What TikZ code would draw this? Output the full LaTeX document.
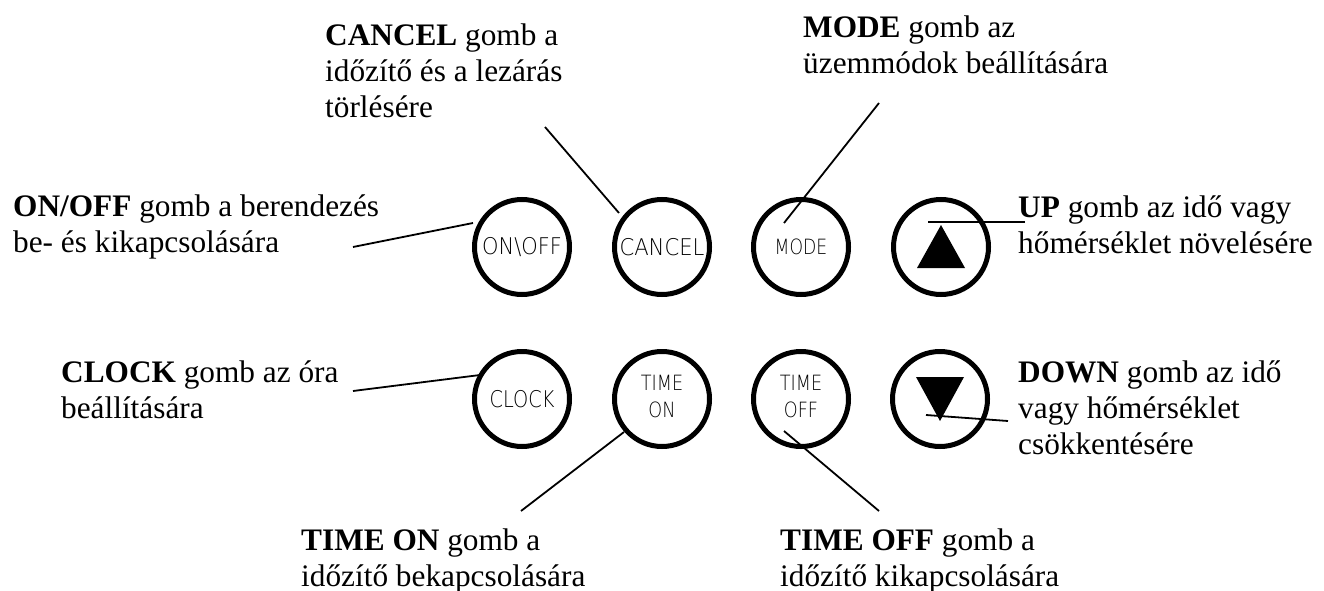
\documentclass[tikz,border=0pt]{standalone}
\usepackage{graphicx}
\usepackage{fontspec}
\setmainfont{Liberation Serif}
\newfontfamily\btnfont{DejaVu Sans ExtraLight}
\newcommand{\bl}[2]{\scalebox{#1}[1]{#2}}
\newcommand{\bltwo}[3]{\scalebox{#1}[1]{\begin{tabular}{@{}c@{}}#2\\#3\end{tabular}}}
\begin{document}
\begin{tikzpicture}[x=1pt,y=-1pt,
  lab/.style={inner sep=0pt,anchor=base west,font=\fontsize{31.3}{36}\selectfont},
  btn/.style={circle,draw,line width=5pt,minimum size=95pt,inner sep=0pt,align=center,
              font=\btnfont\fontsize{23}{27}\selectfont},
  btnsmall/.style={btn,font=\btnfont\fontsize{21}{27}\selectfont},
  conn/.style={line width=1.8pt}]
\useasboundingbox (0,0) rectangle (1324,591);
% buttons
\node[btn] (onoff)  at (522,247) {\bl{0.91}{ON\textbackslash OFF}};
\node[btn] (cancel) at (662,247) {\bl{0.92}{CANCEL}};
\node[btnsmall] (mode)   at (801,247) {\bl{0.82}{MODE}};
\node[btn] (up)     at (941,247) {};
\node[btn] (clock)  at (522,399) {\bl{0.84}{CLOCK}};
\node[btnsmall] (timeon) at (662,399) {\bltwo{0.84}{TIME}{ON}};
\node[btnsmall] (timeoff) at (801,399) {\bltwo{0.84}{TIME}{OFF}};
\node[btn] (down)   at (940,399) {};
\fill[shift={(up.center)}] (0,-22) -- (-24,21) -- (24,21) -- cycle;
\fill[shift={(down.center)}] (-24,-22) -- (24,-22) -- (0,22) -- cycle;
% labels
\node[lab] (tonoff) at (13,216) {\vtop{\hbox{\textbf{ON/OFF} gomb a berendezés}\hbox{be- és kikapcsolására}}};
\node[lab] (tcancel) at (325,46) {\vtop{\hbox{\textbf{CANCEL} gomb a}\hbox{időzítő és a lezárás}\hbox{törlésére}}};
\node[lab] (tmode) at (803,38) {\vtop{\hbox{\textbf{MODE} gomb az}\hbox{üzemmódok beállítására}}};
\node[lab] (tup) at (1018,217) {\vtop{\hbox{\textbf{UP} gomb az idő vagy}\hbox{hőmérséklet növelésére}}};
\node[lab] (tclock) at (61,382) {\vtop{\hbox{\textbf{CLOCK} gomb az óra}\hbox{beállítására}}};
\node[lab] (tdown) at (1018,382) {\vtop{\hbox{\textbf{DOWN} gomb az idő}\hbox{vagy hőmérséklet}\hbox{csökkentésére}}};
\node[lab] (ttimeon) at (301,550) {\vtop{\hbox{\textbf{TIME ON} gomb a}\hbox{időzítő bekapcsolására}}};
\node[lab] (ttimeoff) at (780,550) {\vtop{\hbox{\textbf{TIME OFF} gomb a}\hbox{időzítő kikapcsolására}}};
% connector ends
\coordinate (a1) at (353,247); \coordinate (a2) at (473,223);
\coordinate (b1) at (545,127); \coordinate (b2) at (619,213);
\coordinate (c1) at (879,103); \coordinate (c2) at (784,223);
\coordinate (d1) at (1025,222); \coordinate (d2) at (928,222);
\coordinate (e1) at (353,391); \coordinate (e2) at (480,375);
\coordinate (f1) at (521,511); \coordinate (f2) at (624,432);
\coordinate (g1) at (879,511); \coordinate (g2) at (784,431);
\coordinate (h1) at (1008,421); \coordinate (h2) at (926,415);
\draw[conn] (a1) -- (a2);
\draw[conn] (b1) -- (b2);
\draw[conn] (c1) -- (c2);
\draw[conn] (d1) -- (d2);
\draw[conn] (e1) -- (e2);
\draw[conn] (f1) -- (f2);
\draw[conn] (g1) -- (g2);
\draw[conn] (h1) -- (h2);
\end{tikzpicture}
\end{document}
